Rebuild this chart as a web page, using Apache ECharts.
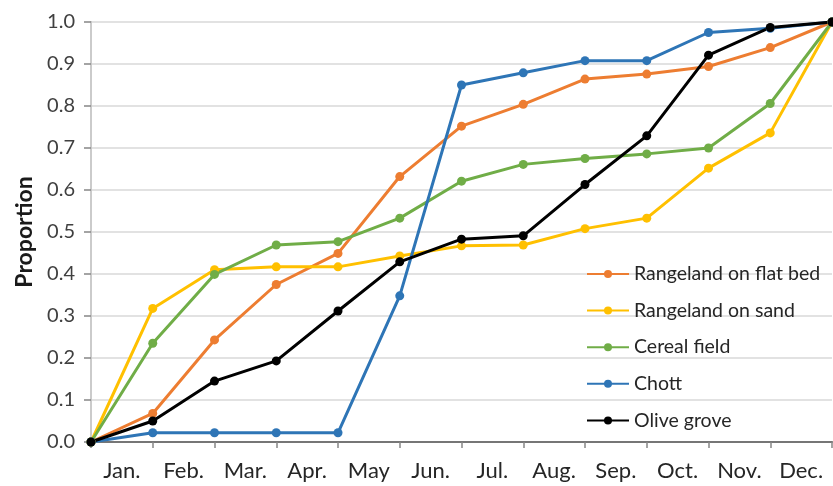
<!DOCTYPE html>
<html>
<head>
<meta charset="utf-8">
<script src="https://cdn.jsdelivr.net/npm/echarts@6/dist/echarts.min.js"></script>
<style>html,body{margin:0;padding:0;background:#fff}#c{width:833px;height:486px}</style>
</head>
<body>
<div id="c"></div>
<script>
var months = ['Jan.', 'Feb.', 'Mar.', 'Apr.', 'May', 'Jun.', 'Jul.', 'Aug.', 'Sep.', 'Oct.', 'Nov.', 'Dec.'];
var steps = [0, 1, 2, 3, 4, 5, 6, 7, 8, 9, 10, 11, 12];
var yTicks = [0, 0.1, 0.2, 0.3, 0.4, 0.5, 0.6, 0.7, 0.8, 0.9, 1.0];
var flatBed = [0, 0.068, 0.243, 0.375, 0.449, 0.632, 0.752, 0.804, 0.864, 0.876, 0.894, 0.939, 1.0];
var sand = [0, 0.318, 0.41, 0.417, 0.417, 0.443, 0.467, 0.469, 0.508, 0.533, 0.652, 0.736, 1.0];
var cereal = [0, 0.235, 0.399, 0.469, 0.477, 0.533, 0.621, 0.661, 0.675, 0.686, 0.700, 0.806, 1.0];
var chott = [0, 0.022, 0.022, 0.022, 0.022, 0.348, 0.85, 0.879, 0.908, 0.908, 0.975, 0.985, 1.0];
var olive = [0, 0.05, 0.145, 0.193, 0.312, 0.429, 0.483, 0.491, 0.613, 0.729, 0.921, 0.987, 1.0];

var seriesDefs = [
  {name: 'Rangeland on flat bed', data: flatBed, color: '#ED7D31'},
  {name: 'Rangeland on sand', data: sand, color: '#FFC000'},
  {name: 'Cereal field', data: cereal, color: '#70AD47'},
  {name: 'Chott', data: chott, color: '#2E75B6'},
  {name: 'Olive grove', data: olive, color: '#000000'}
];

var FONT = 'Lato';
var chart = echarts.init(document.getElementById('c'));
var gridRect = {left: 91, right: 1, top: 22, bottom: 44, containLabel: false};
chart.setOption({
  animation: false,
  textStyle: {fontFamily: FONT},
  grid: [Object.assign({}, gridRect), Object.assign({}, gridRect)],
  xAxis: [
    {type: 'value', gridIndex: 0, position: 'bottom', min: 0, max: 12, interval: 1,
      axisLine: {show: true, lineStyle: {color: '#868686', width: 1.5}},
      axisTick: {show: true, inside: false, length: 6, lineStyle: {color: '#868686', width: 1.5}},
      axisLabel: {show: false}, splitLine: {show: false}},
    {type: 'value', gridIndex: 0, position: 'top', min: 0, max: 12, interval: 1,
      axisLine: {show: true, lineStyle: {color: '#767676', width: 2}},
      axisTick: {show: false}, axisLabel: {show: false}, splitLine: {show: false}},
    {type: 'category', gridIndex: 1, position: 'bottom', data: months, boundaryGap: true,
      axisLine: {show: false}, axisTick: {show: false}, splitLine: {show: false},
      axisLabel: {show: true, interval: 0, margin: 18, fontSize: 22, color: '#262626', fontFamily: FONT}}
  ],
  yAxis: [
    {type: 'value', gridIndex: 0, position: 'left', min: 0, max: 1, interval: 0.1,
      name: 'Proportion', nameLocation: 'middle', nameGap: 54,
      nameTextStyle: {fontSize: 23, fontWeight: 'bold', color: '#1a1a1a', fontFamily: FONT},
      axisLine: {show: true, lineStyle: {color: '#868686', width: 1.5}},
      axisTick: {show: true, inside: false, length: 7, lineStyle: {color: '#868686', width: 1.5}},
      axisLabel: {show: true, margin: 16, fontSize: 20, color: '#404040', fontFamily: FONT,
        formatter: function (v) { return v.toFixed(1); }},
      splitLine: {show: true, lineStyle: {color: '#d9d9d9', width: 1.5}}},
    {type: 'value', gridIndex: 0, position: 'right', min: 0, max: 1, interval: 0.1,
      axisLine: {show: true, lineStyle: {color: '#d9d9d9', width: 1.5}},
      axisTick: {show: false}, axisLabel: {show: false}, splitLine: {show: false}},
    {type: 'value', gridIndex: 1, show: false, min: 0, max: 1}
  ],
  legend: {
    orient: 'vertical', left: 586, top: 264, padding: 0,
    itemWidth: 42, itemHeight: 10, itemGap: 16.6,
    textStyle: {fontSize: 19.5, color: '#262626', fontFamily: FONT, lineHeight: 20},
    data: seriesDefs.map(function (s) { return s.name; })
  },
  series: seriesDefs.map(function (s) {
    return {
      name: s.name, type: 'line', xAxisIndex: 0, yAxisIndex: 0,
      data: steps.map(function (x, i) { return [x, s.data[i]]; }),
      symbol: 'circle', symbolSize: 9, showSymbol: true,
      lineStyle: {color: s.color, width: 3},
      itemStyle: {color: s.color},
      z: 3
    };
  })
});
</script>
</body>
</html>
